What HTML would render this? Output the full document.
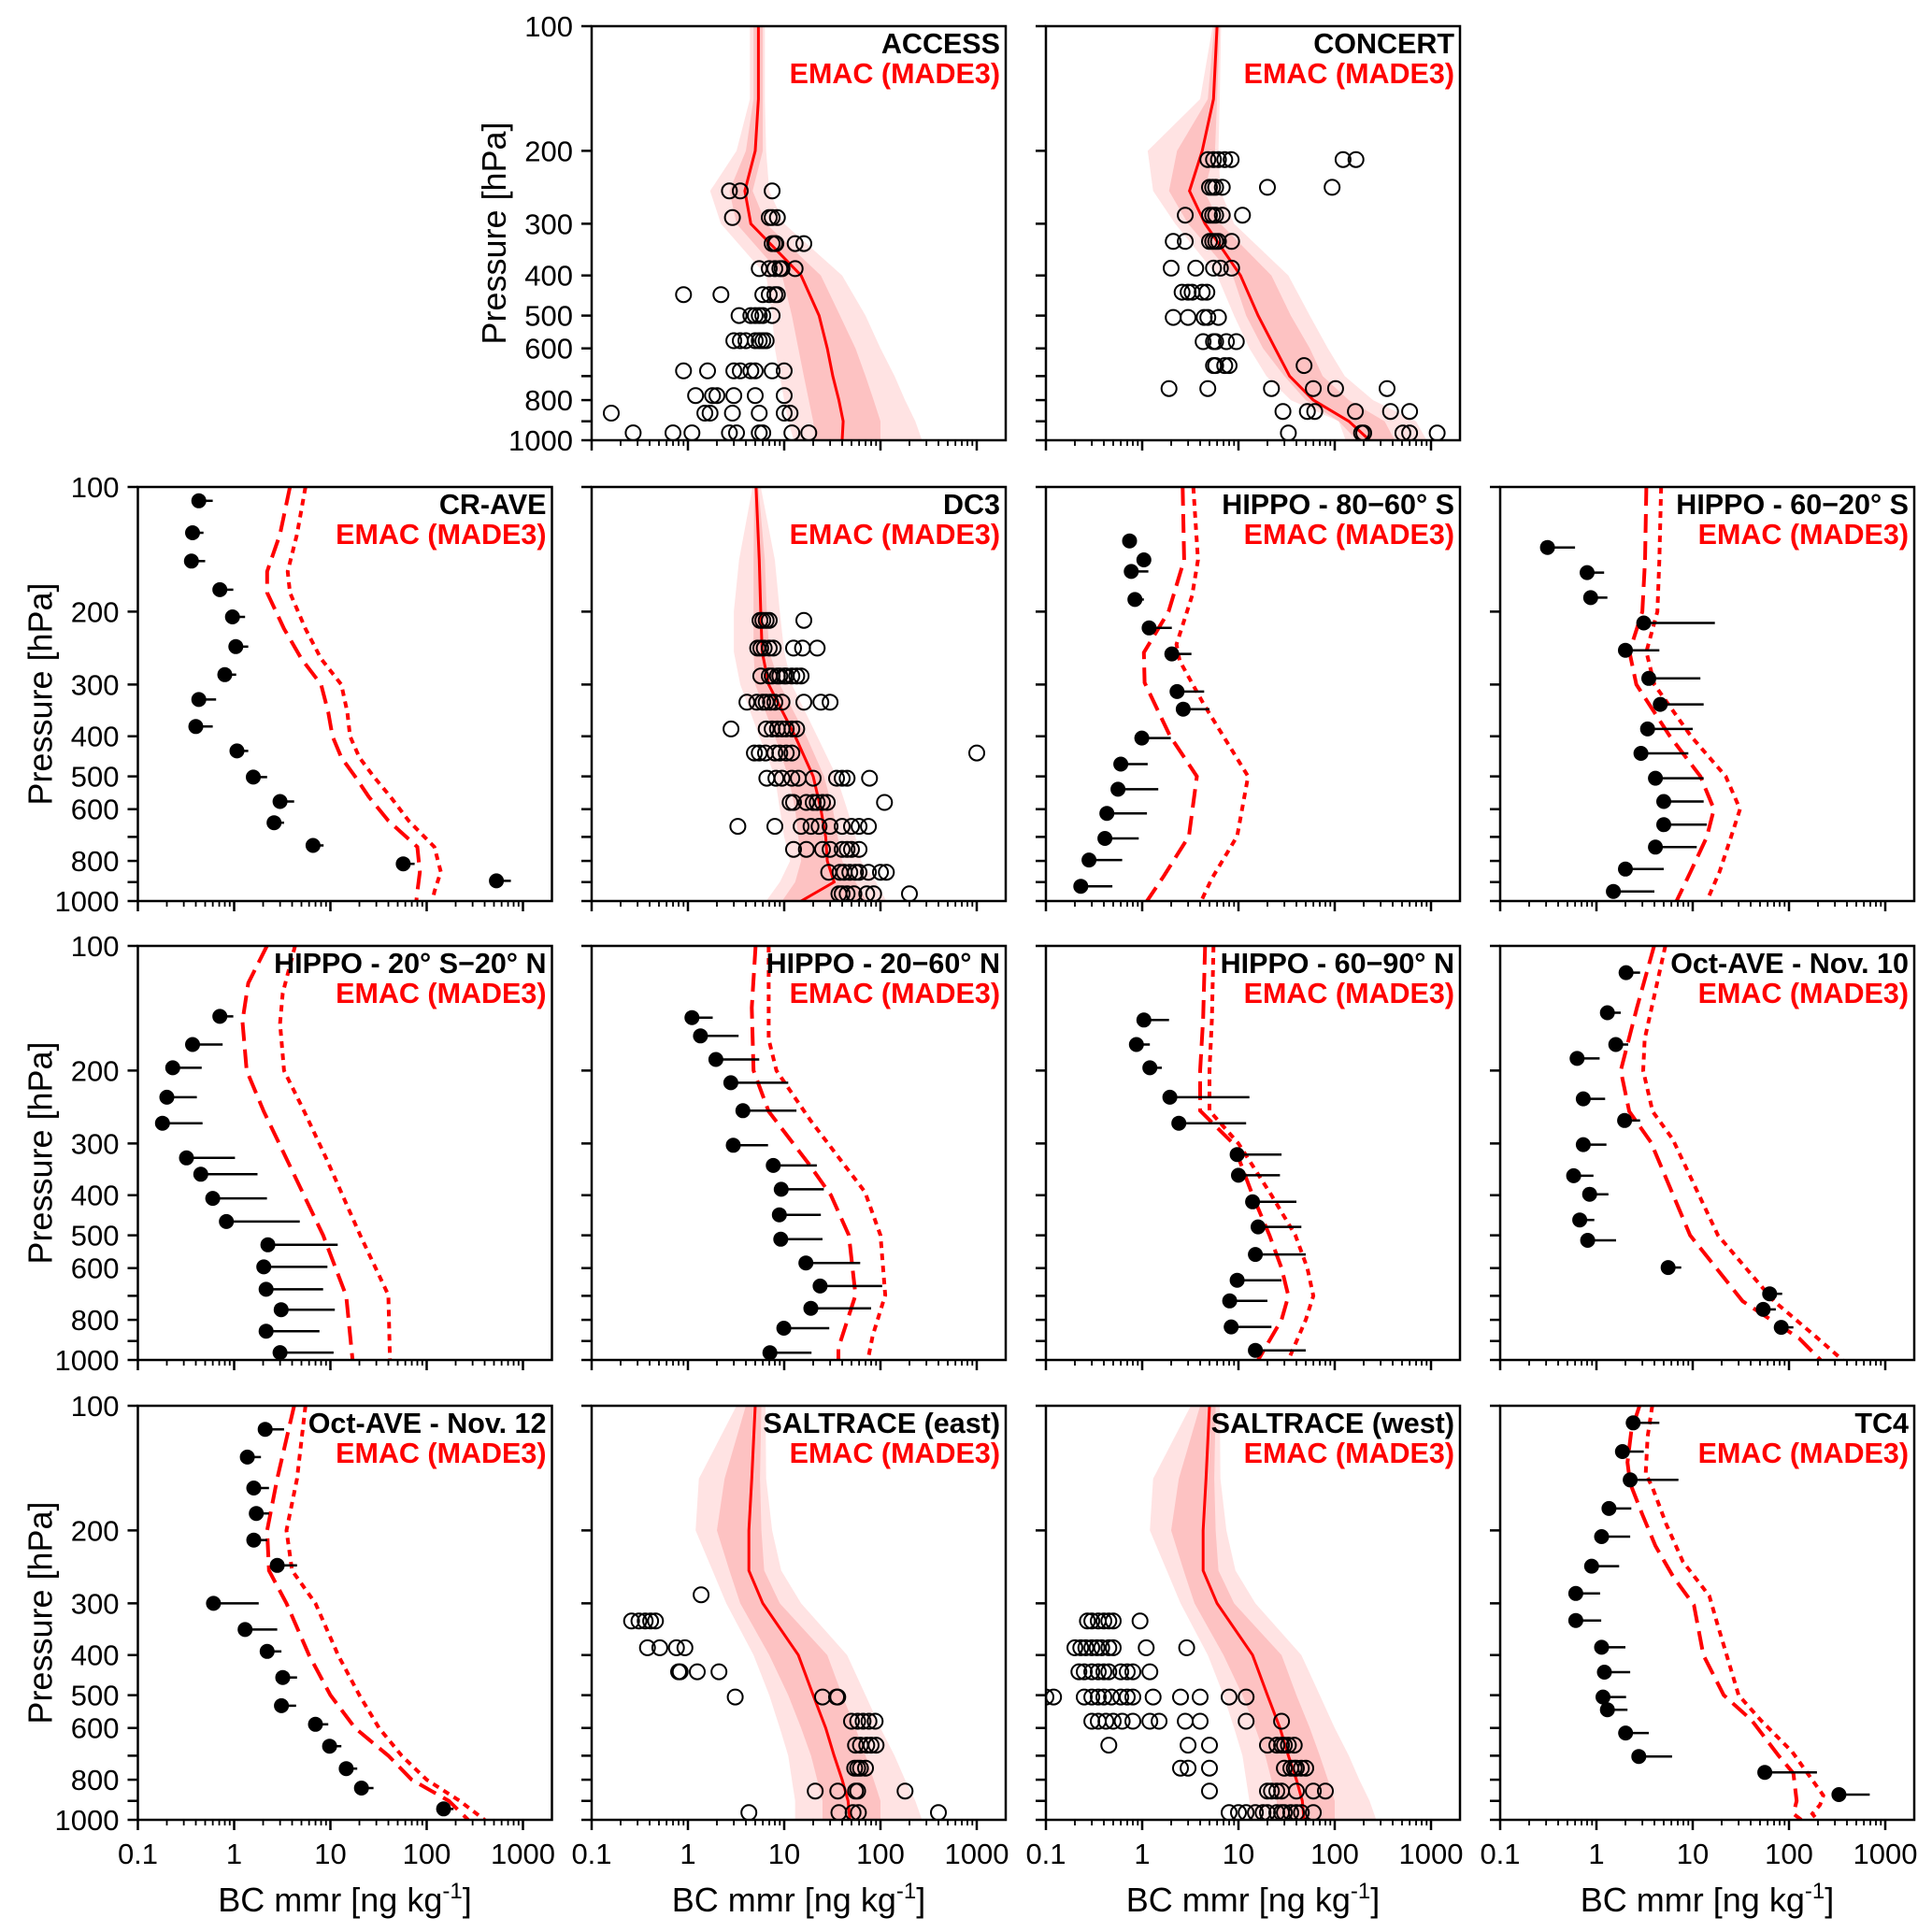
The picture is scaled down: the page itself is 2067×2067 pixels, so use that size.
<!DOCTYPE html>
<html><head><meta charset="utf-8"><style>
html,body{margin:0;padding:0;background:#fff}
svg{display:block}
text{font-family:"Liberation Sans",Arial,sans-serif}
</style></head><body>
<svg id="fig" xmlns="http://www.w3.org/2000/svg" width="2067" height="2067" viewBox="0 0 2067 2067">
<rect width="2067" height="2067" fill="#fff"/>
</svg>
<script>
// ---------- shared axis data ----------
const xTickLabels = ["0.1","1","10","100","1000"];
const xTickValues = [0.1,1,10,100,1000];
const yTickValues = [100,200,300,400,500,600,700,800,900,1000];
const yTickLabels = ["100","200","300","400","500","600","","800","","1000"];
const modelP = [100,150,200,250,300,400,500,600,700,800,900,1000];

// ---------- ACCESS ----------
const accessMed = [5.4,5.4,5,3.9,4.5,15,23,28,32,37,41,40];
const accessInLo = [4.8,4.8,4,2.7,3.2,9.5,12,14,16,18,20,21];
const accessInHi = [6,6,6,4.7,6.5,24,38,55,70,85,100,100];
const accessOutLo = [4.4,4.4,3.2,1.7,2.2,6.5,7.5,8,9,10,11,12.6];
const accessOutHi = [6.3,6.3,6.5,7,10,40,70,100,140,180,230,270];
const accessObsP = [250,290,335,385,445,500,575,680,780,860,960];
const accessObs = [[2.7,3.5,7.5],[2.9,7,7.5,8.5],[7.5,8,8.2,13,16],[5.5,7,8,9,9.5,13],[0.9,2.2,6,7,8,8.5],[3.4,4.5,5,5.5,6,7.5],[3,3.5,4,5,5.5,6,6.5],[0.9,1.6,3,3.5,4.5,5,7.5,10],[1.2,1.8,2,3,5,10],[0.16,1.5,1.7,2.9,5.5,10,11.5],[0.27,0.7,1.1,2.7,3.2,5.5,6,12,18]];

// ---------- CONCERT ----------
const concertMed = [6,5.5,4.2,3.1,4.5,10.5,16,24,34,60,140,230];
const concertInLo = [5.6,4.8,2.3,1.9,3,8.7,12,18,30,50,110,170];
const concertInHi = [6.4,6,5.7,4.4,6.5,22,35,55,75,140,330,420];
const concertOutLo = [5.4,4,1.14,1.3,2.2,6,9,13,19.5,35,110,130];
const concertOutHi = [6.6,6.4,6.2,6.5,9,33,55,85,127,250,700,900];
const obsP12 = [210,245,286,331,384,439,505,578,660,750,852,961];
const concertObs = [[4.8,5.5,6.2,7.2,8.4,122,166],[5,5.4,5.8,6.8,20,94],[2.8,5,5.4,5.8,6.8,11],[2.1,2.8,5,5.4,5.8,6.2,8.5],[2,3.6,5.5,6.5,8.5],[2.6,3,3.3,4.2,4.7],[2.1,3,4.4,4.8,6.2],[4.3,5.5,5.8,7.5,9.5],[5.5,5.8,7.2,8,48],[1.9,4.8,22,60,102,350],[29,52,62,164,380,600],[33,190,200,510,600,1160]];

// ---------- DC3 ----------
const dc3Med = [5.1,5.5,5.7,5.9,6.9,13,20,24,27,28,33,15];
const dc3InLo = [4.9,4.8,4.8,4.8,5,8,11,13,14,15,13,9.5];
const dc3InHi = [5.4,6.3,6.6,7,9,17,26,32,36,40,55,72];
const dc3OutLo = [4.7,3.4,3,3,3.5,5.5,8,9,10,11.5,9,6.5];
const dc3OutHi = [5.7,8,9,10,12,22,35,45,55,63,90,115];
const dc3Obs = [[5.6,6,6.5,7,16],[5.3,5.7,6.2,7,7.7,12.5,15.5,22],[5.7,7,7.5,8.5,9,10,10.5,12,13.5,15],[4.1,5.2,6,6.5,7.2,8,9.5,16,24,30],[2.8,6.5,7.5,8.5,9.5,10.5,12,13.5],[4.9,5.5,6.4,8,9,10.5,12,1000],[6.6,8.2,9.5,12,14,20,35,40,45,77],[11.5,12.5,17,20,22,25,28,110],[3.3,8,15,19,23,30,40,50,60,75],[12.5,17,25,30,40,45,50,60],[29,38,42,48,55,60,75,100,115],[37,40,45,53,72,85,200]];

// ---------- SALTRACE ----------
const saltMed = [5,4.6,4.3,4.3,6,14,20,27,33,40,46,48];
const saltInLo = [4,2.4,2,2.7,3.5,7,11,15,19,22,25,25];
const saltInHi = [5.8,5.6,5.8,6.2,9,28,40,55,70,85,100,100];
const saltOutLo = [3.2,1.3,1.2,1.8,2.5,4.8,7,9,11,12,13,13];
const saltOutHi = [6.4,6.5,7.5,9.3,15,45,70,100,140,180,230,270];
const saltEastP = [286,331,384,439,505,578,660,750,852,961];
const saltEastObs = [[1.37],[0.26,0.31,0.36,0.41,0.46],[0.38,0.51,0.76,0.93],[0.8,0.83,1.25,2.1],[3.1,25,35,36],[50,58,66,76,88],[55,62,72,80,90],[54,58,62,70],[21,36,55,58,180],[4.3,37,52,59,400]];
const saltWestP = [331,384,439,505,578,660,750,852,961];
const saltWestObs = [[0.27,0.3,0.35,0.4,0.45,0.5,0.95],[0.2,0.23,0.26,0.3,0.34,0.38,0.45,0.5,1.1,2.9],[0.22,0.25,0.3,0.35,0.4,0.45,0.6,0.7,0.8,1.2],[0.1,0.12,0.25,0.3,0.35,0.4,0.48,0.6,0.7,0.8,1.3,2.5,4,8,12],[0.3,0.35,0.42,0.5,0.62,0.8,1.2,1.5,2.8,4,12,28],[0.45,3,5,20,25,28,30,33,38],[2.5,3,5,30,35,38,40,45,50],[5,20,22,25,28,40,60,80],[8,10,12,15,18,20,25,28,30,35,40,45,60]];

// ---------- filled-dot campaigns ----------
const craveP = [108,129,151,177,206,243,284,326,379,434,502,575,647,734,813,894];
const craveObs = [0.43,0.37,0.36,0.71,0.96,1.04,0.80,0.43,0.40,1.07,1.58,3.0,2.6,6.6,57,530];
const craveErr = [0.6,0.48,0.5,0.98,1.3,1.4,1.05,0.65,0.6,1.4,2.2,4.2,3.3,8.5,75,750];
const craveLineP = [100,130,160,180,220,260,300,350,400,450,500,560,640,740,850,950,1000];
const craveDash = [3.8,3.0,2.2,2.2,3.3,5,8,9.5,10.5,13,18,25,40,80,85,80,78];
const craveDot = [5.5,4.5,3.6,3.8,5.5,8,13,15,16,20,28,42,65,120,140,120,115];

const h8060P = [135,150,160,187,219,253,312,344,404,467,537,614,706,796,921];
const h8060Obs = [0.74,1.04,0.77,0.84,1.18,2.03,2.3,2.67,0.99,0.60,0.56,0.43,0.41,0.28,0.23];
const h8060Err = [0.74,1.04,1.16,1.04,2.03,3.25,4.4,5.0,1.98,1.14,1.47,1.12,0.92,0.62,0.49];
const h8060DashP = [100,150,200,251,297,400,500,697,870,1000];
const h8060Dash = [2.63,2.73,1.88,1.04,1.06,1.95,3.7,3.06,1.68,1.12];
const h8060DotP = [100,150,183,240,263,336,500,697,882,1000];
const h8060Dot = [3.4,3.8,3.3,2.27,2.45,4.4,12.6,9.7,5.3,4.1];

const h6020P = [140,161,185,213,248,290,335,384,440,505,575,654,741,837,948];
const h6020Obs = [0.31,0.8,0.87,3.1,2.0,3.5,4.6,3.4,2.9,4.1,5.0,5.0,4.1,2.0,1.5];
const h6020Err = [0.6,1.2,1.3,17,4.5,12,13,10,9,13,13,14,11,5,4];
const h6020LineP = [100,150,200,250,300,400,500,600,700,850,1000];
const h6020Dash = [3.3,3.2,3,2.2,2.6,5.8,12,16.6,14,9.5,6.8];
const h6020Dot = [4.7,4.5,4.3,3.3,4,9.6,22,31,25,19,14];

const h2020P = [148,173,197,232,268,325,356,407,463,527,596,675,756,852,960];
const h2020Obs = [0.71,0.37,0.23,0.20,0.18,0.32,0.45,0.60,0.83,2.24,2.03,2.15,3.08,2.15,3.0];
const h2020Err = [0.98,0.76,0.46,0.41,0.47,1.02,1.75,2.19,4.8,11.9,9.3,8.4,11.1,7.7,10.8];
const h2020DashP = [100,123,152,200,251,303,500,700,1000];
const h2020Dash = [2.19,1.4,1.22,1.35,2.03,3.0,8.4,14.6,17];
const h2020DotP = [100,130,154,200,251,325,500,697,1000];
const h2020Dot = [4.3,3.2,3.0,3.3,5.35,9,20.4,40,41.5];

const h2060P = [149,165,188,214,250,303,339,387,446,511,583,663,750,838,961];
const h2060Obs = [1.10,1.35,1.95,2.79,3.72,2.96,7.7,9.3,8.9,9.2,16.8,23.6,18.9,9.9,7.1];
const h2060Err = [1.81,3.36,5.5,11,13.4,6.8,21.8,25.8,24,25,61.6,104,80,29.4,19.2];
const h2060DashP = [100,141,200,251,336,400,500,697,935,1000];
const h2060Dash = [5.05,4.6,4.8,6.9,18,30.6,47,55,36.6,36.6];
const h2060DotP = [100,168,200,264,393,500,697,873,1000];
const h2060Dot = [6.9,6.9,8.3,18.8,69,100,112,83,74];

const h6090P = [151,173,197,232,268,319,358,415,477,556,642,720,832,948];
const h6090Obs = [1.04,0.87,1.2,1.94,2.4,9.7,10,14,16,15,9.7,8.1,8.4,15];
const h6090Err = [1.9,1.2,1.6,13,12,28,27,40,45,50,28,20,22,50];
const h6090LineP = [100,150,200,250,300,400,500,600,700,800,1000];
const h6090Dash = [4.5,4.3,4,4,8.8,14,21,28,33,28,16];
const h6090Dot = [5.5,5.3,5,5,10,22,39,52,60,50,33];

const oct10P = [116,145,173,187,234,264,302,359,398,459,514,598,692,755,834];
const oct10Obs = [2.03,1.30,1.59,0.63,0.73,1.96,0.73,0.58,0.85,0.67,0.81,5.55,63,54,83];
const oct10Err = [2.84,1.79,2.14,1.08,1.23,2.84,1.27,0.93,1.33,0.95,1.6,7.6,85,73,111];
const oct10DashP = [100,141,200,251,298,500,721,886,1000];
const oct10Dash = [3.97,2.63,1.79,2.19,3.68,9.4,33,127,213];
const oct10DotP = [100,168,200,251,293,500,721,886,1000];
const oct10Dot = [5.2,3.17,3.06,3.83,6.2,18.3,70,198,360];

const oct12P = [114,133,158,182,211,243,300,347,392,453,530,588,664,752,838,941];
const oct12Obs = [2.1,1.37,1.6,1.7,1.6,2.8,0.61,1.3,2.2,3.2,3.1,7.0,9.8,14.6,21,150];
const oct12Err = [3.3,1.9,2.3,2.3,2.2,4.5,1.8,2.8,3.1,4.5,4.4,9.5,13,19,28,190];
const oct12LineP = [100,150,200,250,300,400,500,600,700,800,850,900,1000];
const oct12Dash = [4.2,2.8,2.2,2.3,3.5,6,10,18,40,70,110,170,270];
const oct12Dot = [5.5,4.5,3.5,4,7,12,20,32,55,100,150,220,400];

const tc4P = [110,129,151,177,207,244,284,330,383,440,505,542,617,703,768,869];
const tc4Obs = [2.41,1.86,2.24,1.35,1.13,0.89,0.61,0.61,1.13,1.21,1.17,1.30,2.01,2.75,56,330];
const tc4Err = [4.5,3.1,7.1,2.3,2.24,1.72,1.09,1.12,2.0,2.24,2.03,2.1,3.5,6.1,195,690];
const tc4DashP = [100,115,137,154,183,218,259,303,400,500,575,697,772,900,967,1000];
const tc4Dash = [2.8,2.3,2.1,2.24,3.0,4.1,6.3,10.3,12.9,21,41,77,111,120,111,134];
const tc4DotP = [100,119,146,157,193,238,288,336,500,575,685,873,920,967,1000];
const tc4Dot = [3.8,3.4,3.25,3.8,5.3,7.9,14.9,18,30,51,108,227,210,175,196];

// ---------- layout ----------
const colX = [147.5,633,1119,1605];
const rowY = [28,521,1012,1504];
const PW = 443, PH = 443, DEC = 103;
const NS = "http://www.w3.org/2000/svg";
const svg = document.getElementById('fig');

function mk(tag, attrs, parent){
  const e = document.createElementNS(NS, tag);
  for (const k in attrs) e.setAttribute(k, attrs[k]);
  (parent||svg).appendChild(e);
  return e;
}
function xs(L, v){ return L + (Math.log10(v) + 1) * DEC; }
function ys(T, p){ return T + Math.log10(p / 100) * PH; }

let clipN = 0;
function panel(ci, ri, name, title, opts){
  const L = colX[ci], T = rowY[ri];
  const g = mk('g', {});
  
  
  const cid = 'clip' + (clipN++);
  const cp = mk('clipPath', {id: cid}, g);
  mk('rect', {x: L, y: T, width: PW, height: PH}, cp);
  const plot = mk('g', {'clip-path': 'url(#' + cid + ')'}, g);
  
  
  const X = v => xs(L, v), Y = p => ys(T, p);

  if (opts.band){
    const b = opts.band;
    const poly = (lo, hi, col, nm) => {
      let pts = [];
      modelP.forEach((p,i) => pts.push(X(lo[i]).toFixed(1) + ',' + Y(p).toFixed(1)));
      for (let i = modelP.length-1; i >= 0; i--) pts.push(X(hi[i]).toFixed(1) + ',' + Y(modelP[i]).toFixed(1));
      const e = mk('polygon', {points: pts.join(' '), fill: col}, plot);
      
      
    };
    poly(b.outLo, b.outHi, '#ffe3e3', name + '-outer-range');
    poly(b.inLo, b.inHi, '#fdc2c2', name + '-inner-range');
    const ln = mk('polyline', {points: modelP.map((p,i) => X(b.med[i]).toFixed(1)+','+Y(p).toFixed(1)).join(' '), fill:'none', stroke:'#f00', 'stroke-width':3}, plot);
    
    
  }
  if (opts.dash){
    const d = opts.dash;
    const l1 = mk('polyline', {points: d.pd.map((p,i) => X(d.dash[i]).toFixed(1)+','+Y(p).toFixed(1)).join(' '), fill:'none', stroke:'#f00', 'stroke-width':4, 'stroke-dasharray':'20 9'}, plot);
    
    
    const l2 = mk('polyline', {points: d.pt.map((p,i) => X(d.dot[i]).toFixed(1)+','+Y(p).toFixed(1)).join(' '), fill:'none', stroke:'#f00', 'stroke-width':4, 'stroke-dasharray':'7 6'}, plot);
    
    
  }
  if (opts.open){
    const o = opts.open;
    o.p.forEach((p,i) => o.v[i].forEach(v => {
      const c = mk('circle', {cx: X(v).toFixed(1), cy: Y(p).toFixed(1), r: 8, fill:'none', stroke:'#000', 'stroke-width':2}, plot);
      
      
    }));
  }
  if (opts.dots){
    const o = opts.dots;
    o.p.forEach((p,i) => {
      const e = mk('line', {x1: X(o.v[i]).toFixed(1), x2: X(o.e[i]).toFixed(1), y1: Y(p).toFixed(1), y2: Y(p).toFixed(1), stroke:'#000', 'stroke-width':2.5}, plot);
      
      
      const c = mk('circle', {cx: X(o.v[i]).toFixed(1), cy: Y(p).toFixed(1), r: 8, fill:'#000'}, plot);
      
      
    });
  }
  const fr = mk('rect', {x: L, y: T, width: PW, height: PH, fill:'none', stroke:'#000', 'stroke-width':2.5}, g);
  
  
  const yax = mk('g', {}, g);
  
  
  yTickValues.forEach((p,i) => {
    mk('line', {x1: L-11, x2: L, y1: Y(p), y2: Y(p), stroke:'#000', 'stroke-width':2.5}, yax);
    if (opts.yLabels && yTickLabels[i]){
      const t = mk('text', {x: L-20, y: Y(p)+11, 'text-anchor':'end', 'font-size':31}, yax);
      t.textContent = yTickLabels[i];
      
      
    }
  });
  if (opts.yLabels){
    const t = mk('text', {x: L-92, y: T+PH/2, 'text-anchor':'middle', 'font-size':36, transform:'rotate(-90 '+(L-92)+' '+(T+PH/2)+')'}, yax);
    t.textContent = 'Pressure [hPa]';
    
    
  }
  const xax = mk('g', {}, g);
  
  
  const B = T + PH;
  for (let d = 0.1; d < 2000; d *= 10){
    for (let m = 1; m <= 9; m++){
      const v = d*m;
      if (v > 1999) break;
      const major = (m === 1);
      mk('line', {x1: X(v), x2: X(v), y1: B, y2: B + (major ? 11 : 6), stroke:'#000', 'stroke-width': major ? 2.5 : 1.8}, xax);
    }
  }
  if (opts.xLabels){
    xTickValues.forEach((v,i) => {
      const t = mk('text', {x: X(v), y: B+47, 'text-anchor':'middle', 'font-size':31}, xax);
      t.textContent = xTickLabels[i];
      
      
    });
    const t = mk('text', {x: L+PW/2, y: B+98, 'text-anchor':'middle', 'font-size':36}, xax);
    t.innerHTML = 'BC mmr [ng kg<tspan dy="-14" font-size="24">-1</tspan><tspan dy="14">]</tspan>';
    
    
  }
  const t1 = mk('text', {x: L+PW-6, y: T+29, 'text-anchor':'end', 'font-size':30.5, 'font-weight':'bold'}, g);
  t1.textContent = title;
  
  
  const t2 = mk('text', {x: L+PW-6, y: T+61, 'text-anchor':'end', 'font-size':30.5, 'font-weight':'bold', fill:'#f00'}, g);
  t2.textContent = 'EMAC (MADE3)';
  
  
}

panel(1,0,'access','ACCESS',{yLabels:true, band:{med:accessMed,inLo:accessInLo,inHi:accessInHi,outLo:accessOutLo,outHi:accessOutHi}, open:{p:accessObsP,v:accessObs}});
panel(2,0,'concert','CONCERT',{band:{med:concertMed,inLo:concertInLo,inHi:concertInHi,outLo:concertOutLo,outHi:concertOutHi}, open:{p:obsP12,v:concertObs}});
panel(0,1,'cr-ave','CR-AVE',{yLabels:true, dash:{pd:craveLineP,dash:craveDash,pt:craveLineP,dot:craveDot}, dots:{p:craveP,v:craveObs,e:craveErr}});
panel(1,1,'dc3','DC3',{band:{med:dc3Med,inLo:dc3InLo,inHi:dc3InHi,outLo:dc3OutLo,outHi:dc3OutHi}, open:{p:obsP12,v:dc3Obs}});
panel(2,1,'hippo-80-60s','HIPPO - 80\u221260\u00b0 S',{dash:{pd:h8060DashP,dash:h8060Dash,pt:h8060DotP,dot:h8060Dot}, dots:{p:h8060P,v:h8060Obs,e:h8060Err}});
panel(3,1,'hippo-60-20s','HIPPO - 60\u221220\u00b0 S',{dash:{pd:h6020LineP,dash:h6020Dash,pt:h6020LineP,dot:h6020Dot}, dots:{p:h6020P,v:h6020Obs,e:h6020Err}});
panel(0,2,'hippo-20s-20n','HIPPO - 20\u00b0 S\u221220\u00b0 N',{yLabels:true, dash:{pd:h2020DashP,dash:h2020Dash,pt:h2020DotP,dot:h2020Dot}, dots:{p:h2020P,v:h2020Obs,e:h2020Err}});
panel(1,2,'hippo-20-60n','HIPPO - 20\u221260\u00b0 N',{dash:{pd:h2060DashP,dash:h2060Dash,pt:h2060DotP,dot:h2060Dot}, dots:{p:h2060P,v:h2060Obs,e:h2060Err}});
panel(2,2,'hippo-60-90n','HIPPO - 60\u221290\u00b0 N',{dash:{pd:h6090LineP,dash:h6090Dash,pt:h6090LineP,dot:h6090Dot}, dots:{p:h6090P,v:h6090Obs,e:h6090Err}});
panel(3,2,'oct-ave-nov10','Oct-AVE - Nov. 10',{dash:{pd:oct10DashP,dash:oct10Dash,pt:oct10DotP,dot:oct10Dot}, dots:{p:oct10P,v:oct10Obs,e:oct10Err}});
panel(0,3,'oct-ave-nov12','Oct-AVE - Nov. 12',{yLabels:true, xLabels:true, dash:{pd:oct12LineP,dash:oct12Dash,pt:oct12LineP,dot:oct12Dot}, dots:{p:oct12P,v:oct12Obs,e:oct12Err}});
panel(1,3,'saltrace-east','SALTRACE (east)',{xLabels:true, band:{med:saltMed,inLo:saltInLo,inHi:saltInHi,outLo:saltOutLo,outHi:saltOutHi}, open:{p:saltEastP,v:saltEastObs}});
panel(2,3,'saltrace-west','SALTRACE (west)',{xLabels:true, band:{med:saltMed,inLo:saltInLo,inHi:saltInHi,outLo:saltOutLo,outHi:saltOutHi}, open:{p:saltWestP,v:saltWestObs}});
panel(3,3,'tc4','TC4',{xLabels:true, dash:{pd:tc4DashP,dash:tc4Dash,pt:tc4DotP,dot:tc4Dot}, dots:{p:tc4P,v:tc4Obs,e:tc4Err}});
</script>
</body></html>
